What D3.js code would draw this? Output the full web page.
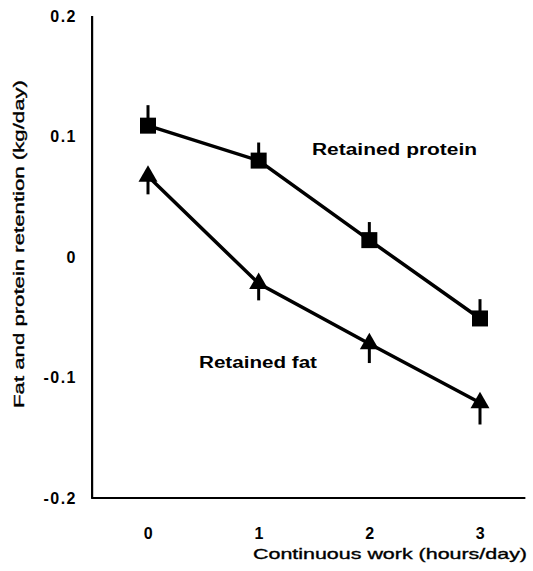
<!DOCTYPE html>
<meta charset="utf-8">
<script src="https://d3js.org/d3.v7.min.js"></script>
<style type="text/css">
    body { margin: 0; background: #fff; }
    text {
        font-family: "Liberation Sans", Arial, sans-serif;
        font-weight: bold;
        fill: #000;
    }
    .tick-label { font-size: 16px; letter-spacing: 1.5px; }
    .axis-title { font-size: 15px; font-weight: normal; stroke: #000; stroke-width: 0.35px; }
    .series-label { font-size: 16px; }
</style>

<body>
    <script type="text/javascript">
        // data
        var hours = [0, 1, 2, 3];
        var protein = [0.109, 0.080, 0.014, -0.051];
        var proteinErr = [0.017, 0.015, 0.015, 0.016];
        var fat = [0.067, -0.022, -0.072, -0.121];
        var fatErr = [0.015, 0.014, 0.016, 0.018];
        var yTicks = [0.2, 0.1, 0, -0.1, -0.2];
        var yTickLabels = ["0.2", "0.1", "0", "-0.1", "-0.2"];

        var width = 533, height = 571;

        var svg = d3.select("body").append("svg")
            .attr("width", width)
            .attr("height", height);

        var xScale = d3.scaleLinear()
            .domain([0, 3])
            .range([148, 480]);

        var yScale = d3.scaleLinear()
            .domain([-0.2, 0.2])
            .range([498, 16]);

        // axes (plain lines, no tick marks)
        svg.append("line")
            .attr("x1", xScale(-0.505)).attr("x2", xScale(-0.505))
            .attr("y1", yScale(0.2)).attr("y2", yScale(-0.2))
            .style("stroke", "black").style("stroke-width", 2.2);
        svg.append("line")
            .attr("x1", xScale(-0.505) - 1).attr("x2", xScale(3.41))
            .attr("y1", yScale(-0.2)).attr("y2", yScale(-0.2))
            .style("stroke", "black").style("stroke-width", 2.2);

        svg.selectAll(".ytick")
            .data(yTicks)
            .enter().append("text")
            .attr("class", "tick-label")
            .attr("x", 77)
            .attr("y", function (d) { return yScale(d); })
            .attr("dy", "0.35em")
            .style("text-anchor", "end")
            .text(function (d, i) { return yTickLabels[i]; });

        svg.selectAll(".xtick")
            .data(hours)
            .enter().append("text")
            .attr("class", "tick-label")
            .attr("x", function (d) { return xScale(d) + 1; })
            .attr("y", 539)
            .style("text-anchor", "middle")
            .text(String);

        svg.append("text")
            .attr("class", "axis-title")
            .attr("x", 253)
            .attr("y", 559)
            .attr("textLength", 274)
            .attr("lengthAdjust", "spacingAndGlyphs")
            .text("Continuous work (hours/day)");

        svg.append("text")
            .attr("class", "axis-title")
            .attr("transform", "translate(24,408) rotate(-90)")
            .attr("textLength", 328)
            .attr("lengthAdjust", "spacingAndGlyphs")
            .text("Fat and protein retention (kg/day)");

        var line = d3.line()
            .x(function (d) { return xScale(d[0]); })
            .y(function (d) { return yScale(d[1]); });

        var proteinPts = hours.map(function (h, i) { return [h, protein[i], proteinErr[i]]; });
        var fatPts = hours.map(function (h, i) { return [h, fat[i], fatErr[i]]; });

        // error bars: protein up, fat down
        svg.selectAll(".perr")
            .data(proteinPts)
            .enter().append("line")
            .attr("x1", function (d) { return xScale(d[0]); })
            .attr("x2", function (d) { return xScale(d[0]); })
            .attr("y1", function (d) { return yScale(d[1]); })
            .attr("y2", function (d) { return yScale(d[1] + d[2]); })
            .style("stroke", "black").style("stroke-width", 3);

        svg.selectAll(".ferr")
            .data(fatPts)
            .enter().append("line")
            .attr("x1", function (d) { return xScale(d[0]); })
            .attr("x2", function (d) { return xScale(d[0]); })
            .attr("y1", function (d) { return yScale(d[1]); })
            .attr("y2", function (d) { return yScale(d[1] - d[2]); })
            .style("stroke", "black").style("stroke-width", 3);

        svg.append("path")
            .datum(proteinPts)
            .attr("d", line)
            .style("fill", "none").style("stroke", "black").style("stroke-width", 3.5);

        svg.append("path")
            .datum(fatPts)
            .attr("d", line)
            .style("fill", "none").style("stroke", "black").style("stroke-width", 3.5);

        svg.selectAll(".sq")
            .data(proteinPts)
            .enter().append("path")
            .attr("d", d3.symbol().type(d3.symbolSquare).size(256))
            .attr("transform", function (d) { return "translate(" + xScale(d[0]) + "," + yScale(d[1]) + ")"; })
            .style("fill", "black");

        svg.selectAll(".tri")
            .data(fatPts)
            .enter().append("path")
            .attr("d", d3.symbol().type(d3.symbolTriangle).size(156))
            .attr("transform", function (d) { return "translate(" + xScale(d[0]) + "," + yScale(d[1]) + ")"; })
            .style("fill", "black");

        svg.append("text")
            .attr("class", "series-label")
            .attr("x", 312)
            .attr("y", 155)
            .attr("textLength", 165)
            .attr("lengthAdjust", "spacingAndGlyphs")
            .text("Retained protein");

        svg.append("text")
            .attr("class", "series-label")
            .attr("x", 199)
            .attr("y", 368)
            .attr("textLength", 118)
            .attr("lengthAdjust", "spacingAndGlyphs")
            .text("Retained fat");
    </script>
</body>
</html>
